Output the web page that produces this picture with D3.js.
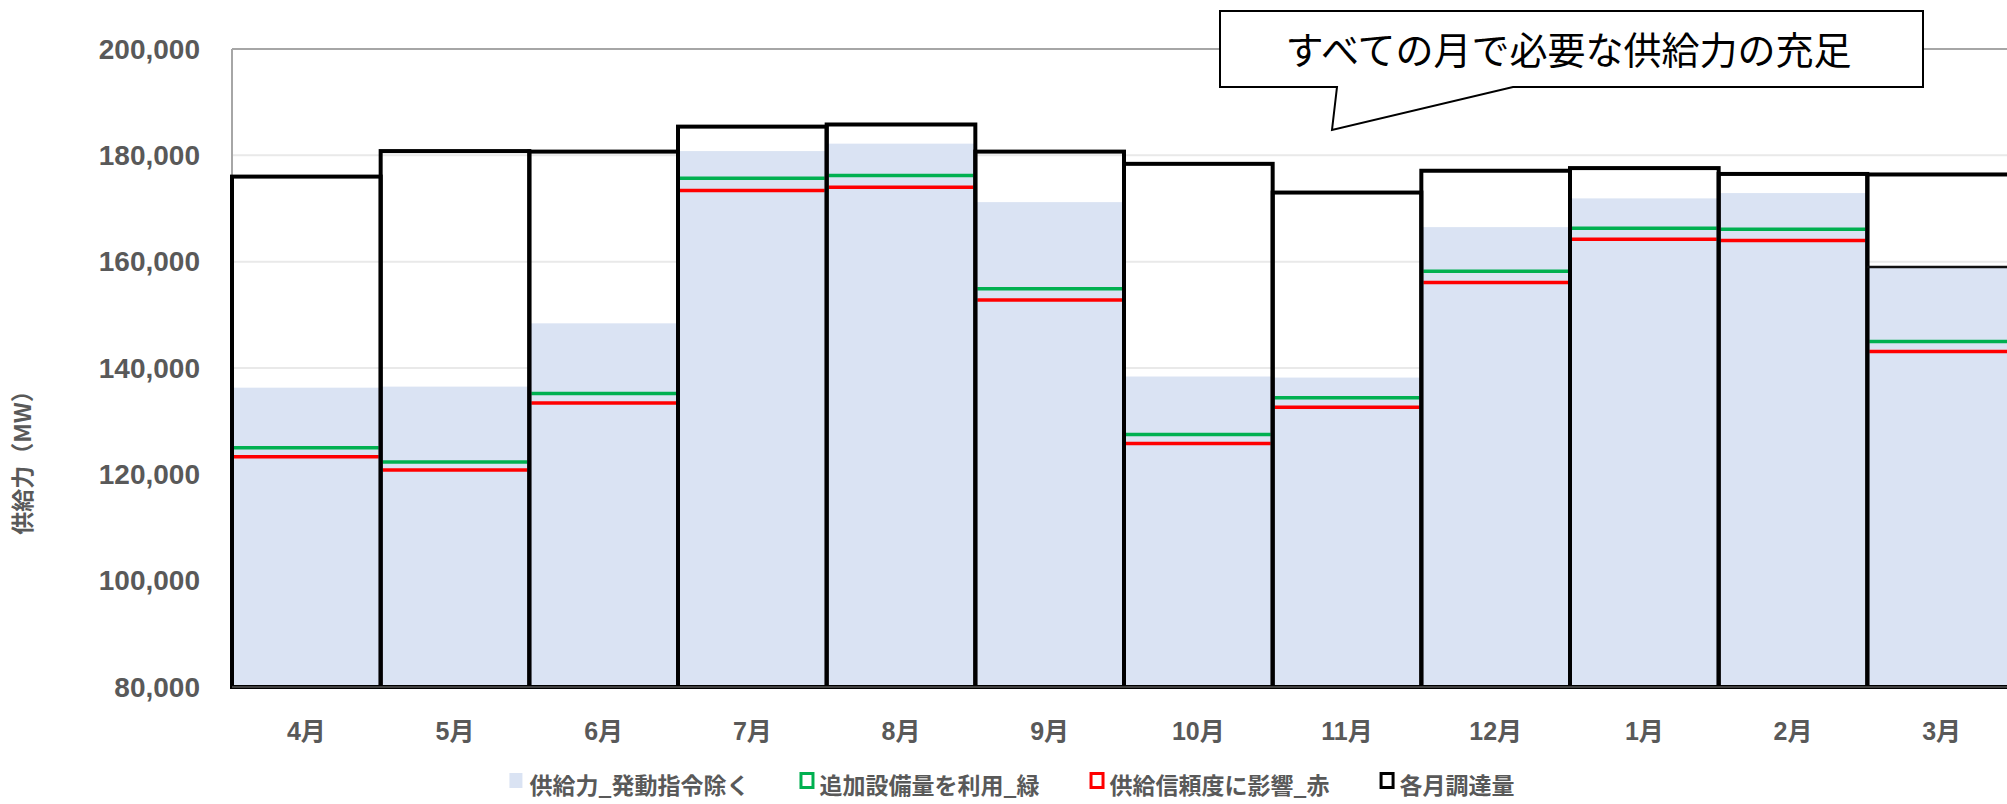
<!DOCTYPE html>
<html>
<head>
<meta charset="utf-8">
<script src="https://cdn.jsdelivr.net/npm/d3@7"></script>
<style>
  html, body { margin: 0; padding: 0; background: #ffffff; }
  svg { display: block; }
</style>
</head>
<body>
<svg id="chart" width="2007" height="804"></svg>
<script>
// Monthly supply-capacity data (MW), fiscal year April to March
const months = ["4月", "5月", "6月", "7月", "8月", "9月", "10月", "11月", "12月", "1月", "2月", "3月"];

// 供給力_発動指令除く (filled bars)
const supplyExclDispatch = [136300, 136500, 148400, 180800, 182200, 171200, 138400, 138200, 166500, 171900, 172900, 159000];
// 追加設備量を利用_緑 (green level lines)
const withAdditionalCapacity = [125000, 122300, 135200, 175700, 176200, 154900, 127500, 134400, 158200, 166300, 166100, 145000];
// 供給信頼度に影響_赤 (red level lines)
const reliabilityImpact = [123300, 120800, 133400, 173400, 174000, 152800, 125800, 132600, 156100, 164200, 164000, 143100];
// 各月調達量 (outlined bars)
const monthlyProcurement = [176000, 180800, 180700, 185400, 185800, 180700, 178400, 173000, 177100, 177600, 176500, 176400];
// inner procurement tier (only March has one)
const procurementInner = [null, null, null, null, null, null, null, null, null, null, null, 159000];

const yTicks = [80000, 100000, 120000, 140000, 160000, 180000, 200000];

const legendItems = [
  { label: "供給力_発動指令除く", kind: "fill", color: "#dae3f3" },
  { label: "追加設備量を利用_緑", kind: "outline", color: "#00b050" },
  { label: "供給信頼度に影響_赤", kind: "outline", color: "#ff0000" },
  { label: "各月調達量", kind: "outline", color: "#000000" }
];

const calloutText = "すべての月で必要な供給力の充足";
const yAxisTitle = "供給力（MW）";

// ---- layout ----
const W = 2007, H = 804;
const plot = { left: 232, right: 2016, top: 49, bottom: 687 };
const FONT = "'Liberation Sans', 'Noto Sans CJK JP', sans-serif";
const CJK = "'Noto Sans CJK JP', 'Liberation Sans', sans-serif";
const labelGray = "#595959";

const svg = d3.select("#chart");

const x = d3.scaleBand().domain(months).range([plot.left, plot.right]).padding(0);
const y = d3.scaleLinear().domain([80000, 200000]).range([plot.bottom, plot.top]);

// gridlines
svg.append("g").selectAll("line")
  .data(yTicks.filter(t => t > 80000))
  .join("line")
  .attr("x1", plot.left).attr("x2", W)
  .attr("y1", d => y(d)).attr("y2", d => y(d))
  .attr("stroke", d => d === 200000 ? "#a6a6a6" : "#e9e9e9")
  .attr("stroke-width", 2);

// plot-area left border
svg.append("line")
  .attr("x1", plot.left).attr("x2", plot.left)
  .attr("y1", plot.top).attr("y2", plot.bottom)
  .attr("stroke", "#a6a6a6").attr("stroke-width", 2);

// supply bars
svg.append("g").selectAll("rect")
  .data(months)
  .join("rect")
  .attr("x", d => x(d))
  .attr("width", x.bandwidth())
  .attr("y", (d, i) => y(supplyExclDispatch[i]))
  .attr("height", (d, i) => y(80000) - y(supplyExclDispatch[i]))
  .attr("fill", "#dae3f3");

// level lines
function levelLines(values, color) {
  svg.append("g").selectAll("line")
    .data(months)
    .join("line")
    .attr("x1", d => x(d) + 2)
    .attr("x2", d => x(d) + x.bandwidth() - 2)
    .attr("y1", (d, i) => y(values[i]))
    .attr("y2", (d, i) => y(values[i]))
    .attr("stroke", color)
    .attr("stroke-width", 3.5);
}
levelLines(withAdditionalCapacity, "#00b050");
levelLines(reliabilityImpact, "#ff0000");

// procurement outline bars
svg.append("g").selectAll("rect")
  .data(months)
  .join("rect")
  .attr("x", d => x(d))
  .attr("width", x.bandwidth())
  .attr("y", (d, i) => y(monthlyProcurement[i]))
  .attr("height", (d, i) => y(80000) - y(monthlyProcurement[i]))
  .attr("fill", "none")
  .attr("stroke", "#000000")
  .attr("stroke-width", 4);

// inner procurement tier
svg.append("g").selectAll("line")
  .data(months.filter((m, i) => procurementInner[i] != null))
  .join("line")
  .attr("x1", d => x(d))
  .attr("x2", d => x(d) + x.bandwidth())
  .attr("y1", d => y(procurementInner[months.indexOf(d)]))
  .attr("y2", d => y(procurementInner[months.indexOf(d)]))
  .attr("stroke", "#111111")
  .attr("stroke-width", 2.5);

// x axis line
svg.append("line")
  .attr("x1", plot.left).attr("x2", W)
  .attr("y1", plot.bottom).attr("y2", plot.bottom)
  .attr("stroke", "#404040").attr("stroke-width", 2);

// y tick labels
svg.append("g").selectAll("text")
  .data(yTicks)
  .join("text")
  .attr("x", 200)
  .attr("y", d => y(d))
  .attr("dy", "0.35em")
  .attr("text-anchor", "end")
  .attr("font-family", FONT)
  .attr("font-weight", "bold")
  .attr("font-size", 28)
  .attr("fill", labelGray)
  .text(d => d3.format(",")(d));

// x tick labels
svg.append("g").selectAll("text")
  .data(months)
  .join("text")
  .attr("x", d => x(d) + x.bandwidth() / 2)
  .attr("y", 740)
  .attr("text-anchor", "middle")
  .attr("font-family", FONT)
  .attr("font-weight", "bold")
  .attr("font-size", 25)
  .attr("fill", labelGray)
  .text(d => d);

// y axis title
svg.append("text")
  .attr("transform", "translate(23,457) rotate(-90)")
  .attr("text-anchor", "middle")
  .attr("dy", "0.35em")
  .attr("font-family", CJK)
  .attr("font-weight", "bold")
  .attr("font-size", 23)
  .attr("fill", labelGray)
  .text(yAxisTitle);

// callout bubble
const bx0 = 1220, bx1 = 1923, by0 = 11, by1 = 87;
const callout = d3.path();
callout.moveTo(bx0, by0);
callout.lineTo(bx1, by0);
callout.lineTo(bx1, by1);
callout.lineTo(1513, by1);
callout.lineTo(1332, 130);
callout.lineTo(1337, by1);
callout.lineTo(bx0, by1);
callout.closePath();
svg.append("path")
  .attr("d", callout.toString())
  .attr("fill", "#ffffff")
  .attr("stroke", "#000000")
  .attr("stroke-width", 2);
svg.append("text")
  .attr("x", (bx0 + bx1) / 2 - 3)
  .attr("y", 50)
  .attr("dy", "0.36em")
  .attr("text-anchor", "middle")
  .attr("font-family", CJK)
  .attr("font-size", 38)
  .attr("fill", "#000000")
  .text(calloutText);

// legend
const legend = svg.append("g");
const itemGap = 50, markerW = 14, markerGap = 6;
const legendY = 786;
let cursor = 0;
legendItems.forEach(it => {
  const g = legend.append("g");
  if (it.kind === "fill") {
    g.append("rect").attr("x", 0).attr("y", legendY - 13).attr("width", 13).attr("height", 15)
      .attr("fill", it.color);
  } else {
    g.append("rect").attr("x", 1.5).attr("y", legendY - 12.5).attr("width", 12).attr("height", 14)
      .attr("fill", "#ffffff").attr("stroke", it.color).attr("stroke-width", 3);
  }
  const t = g.append("text")
    .attr("x", markerW + markerGap)
    .attr("y", legendY)
    .attr("dy", "0.36em")
    .attr("font-family", CJK)
    .attr("font-weight", "bold")
    .attr("font-size", 23)
    .attr("fill", labelGray)
    .text(it.label);
  const w = markerW + markerGap + t.node().getComputedTextLength();
  g.attr("transform", `translate(${cursor},0)`);
  cursor += w + itemGap;
});
const legendWidth = cursor - itemGap;
legend.attr("transform", `translate(${1012 - legendWidth / 2},0)`);
</script>
</body>
</html>
